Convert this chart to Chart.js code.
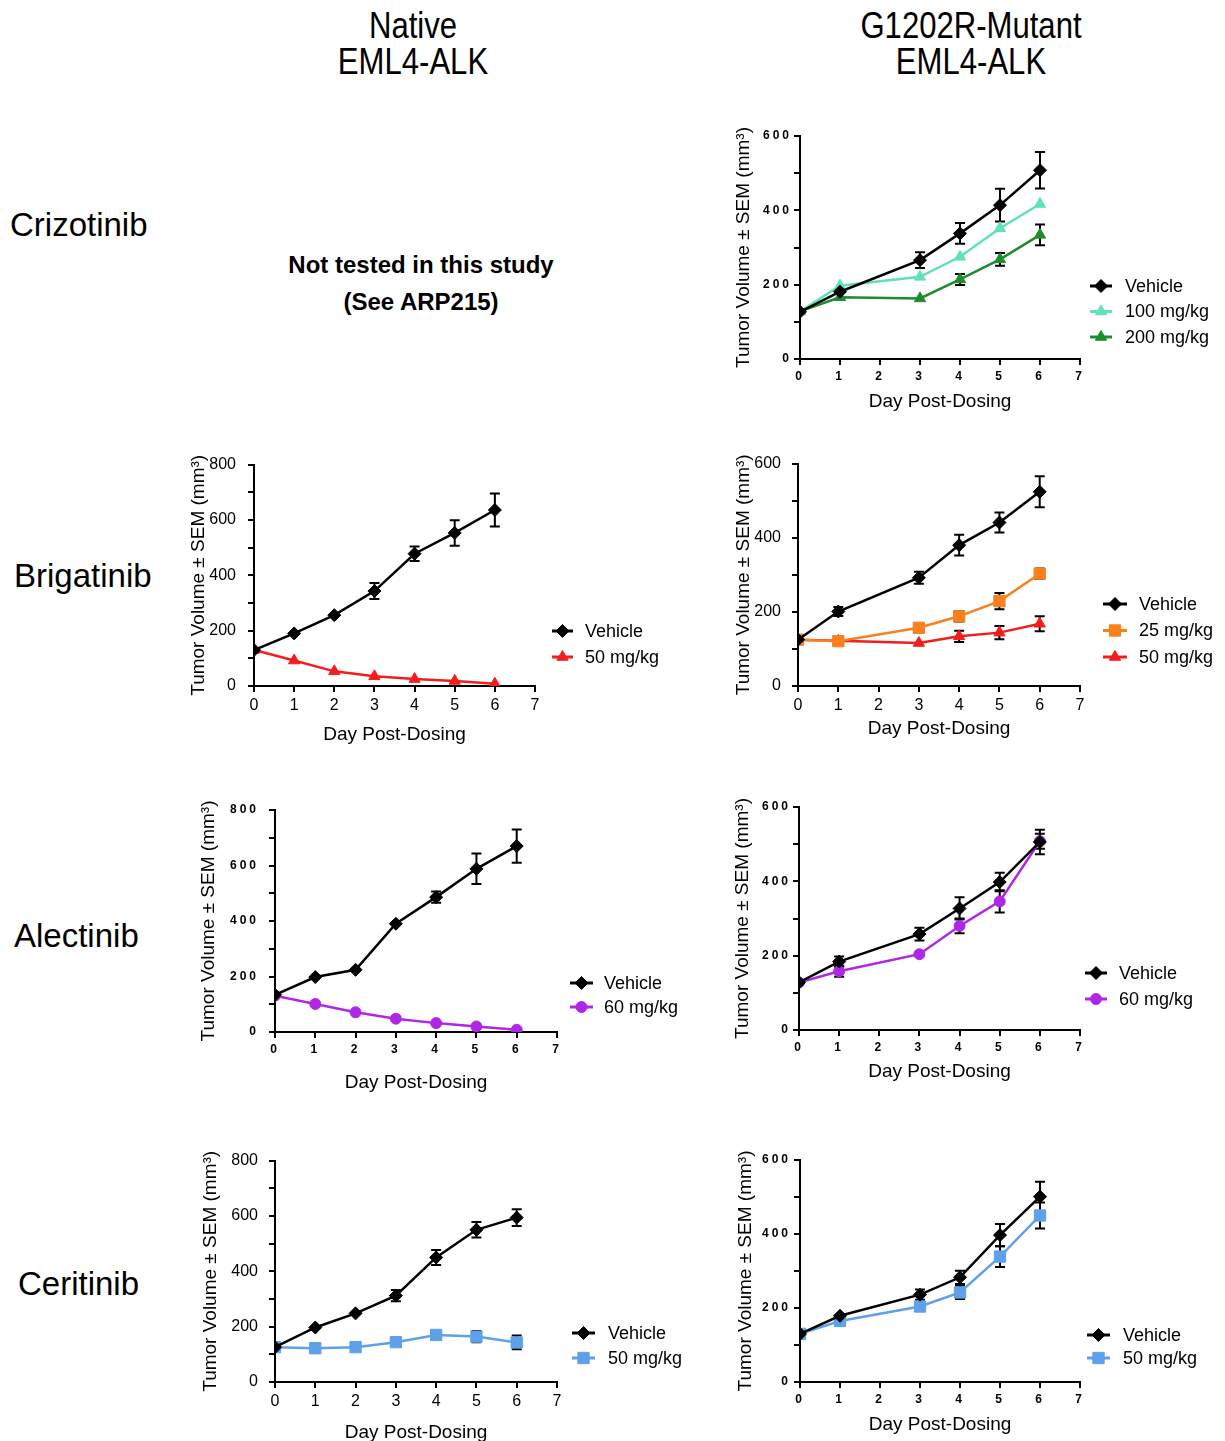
<!DOCTYPE html>
<html>
<head>
<meta charset="utf-8">
<title>Tumor volume, native vs G1202R-mutant EML4-ALK</title>
<script src="https://cdn.jsdelivr.net/npm/chart.js@4.4.1/dist/chart.umd.min.js"></script>
<style>
  html, body { margin: 0; padding: 0; background: #fff; }
  body { position: relative; width: 1225px; height: 1441px; overflow: hidden;
         font-family: 'Liberation Sans', Arial, sans-serif; color: #000; }
  .head { position: absolute; width: 300px; text-align: center; white-space: nowrap;
          font-size: 37px; line-height: 36px; transform: scaleX(0.84); transform-origin: 50% 50%; }
  .drug { position: absolute; font-size: 33px; line-height: 33px; white-space: nowrap; }
  .note { position: absolute; width: 320px; text-align: center; font-weight: bold;
          font-size: 24px; line-height: 24px; white-space: nowrap; }
</style>
</head>
<body>
<div class="head" style="left:263px;top:8px">Native<br>EML4-ALK</div>
<div class="head" style="left:821px;top:8px">G1202R-Mutant<br>EML4-ALK</div>

<div class="drug" style="left:10px;top:208px">Crizotinib</div>
<div class="drug" style="left:14px;top:559px">Brigatinib</div>
<div class="drug" style="left:14px;top:919px">Alectinib</div>
<div class="drug" style="left:18px;top:1267px">Ceritinib</div>

<div class="note" style="left:261px;top:253px">Not tested in this study</div>
<div class="note" style="left:261px;top:290px">(See ARP215)</div>

<script>
Chart.defaults.color = '#000';
Chart.defaults.font.family = "'Liberation Sans', Arial, sans-serif";

// measurement days and axis labels
const daysNative = [0, 1, 2, 3, 4, 5, 6];
const daysMutant = [0, 1, 3, 4, 5, 6];
const volLabels600 = [0, 200, 400, 600];
const volLabels800 = [0, 200, 400, 600, 800];

// Crizotinib, G1202R-mutant
const crizMutVehicle = [127, 181, 266, 338, 414, 508];
const crizMutVehicleSem = [0, 0, 21, 28, 44, 49];
const crizMut100 = [128, 197, 221, 275, 352, 417];
const crizMut100Sem = [0, 0, 0, 0, 0, 0];
const crizMut200 = [128, 166, 163, 214, 268, 334];
const crizMut200Sem = [0, 0, 0, 15, 17, 28];

// Brigatinib, native
const brigNatVehicle = [130, 190, 256, 343, 478, 553, 636];
const brigNatVehicleSem = [0, 0, 0, 29, 26, 46, 60];
const brigNat50 = [130, 92, 53, 35, 25, 18, 8];
const brigNat50Sem = [0, 0, 0, 0, 0, 0, 0];

// Brigatinib, G1202R-mutant
const brigMutVehicle = [125, 201, 292, 380, 441, 524];
const brigMutVehicleSem = [0, 12, 16, 28, 27, 42];
const brigMut25 = [125, 121, 157, 188, 229, 303];
const brigMut25Sem = [0, 0, 0, 14, 22, 14];
const brigMut50 = [125, 122, 116, 134, 144, 168];
const brigMut50Sem = [0, 0, 0, 15, 18, 20];

// Alectinib, native
const alecNatVehicle = [134, 198, 224, 390, 486, 588, 670];
const alecNatVehicleSem = [0, 0, 0, 0, 20, 55, 60];
const alecNat60 = [131, 101, 71, 48, 32, 20, 8];
const alecNat60Sem = [0, 0, 0, 0, 0, 0, 0];

// Alectinib, G1202R-mutant
const alecMutVehicle = [128, 184, 258, 327, 398, 506];
const alecMutVehicleSem = [0, 14, 17, 30, 25, 33];
const alecMut60 = [128, 158, 204, 280, 346, 508];
const alecMut60Sem = [0, 15, 0, 20, 30, 20];

// Ceritinib, native
const ceriNatVehicle = [126, 197, 248, 312, 450, 550, 594];
const ceriNatVehicleSem = [0, 0, 0, 20, 27, 28, 30];
const ceriNat50 = [126, 122, 126, 144, 170, 164, 143];
const ceriNat50Sem = [0, 0, 0, 0, 0, 20, 25];

// Ceritinib, G1202R-mutant
const ceriMutVehicle = [130, 179, 236, 283, 397, 501];
const ceriMutVehicleSem = [0, 0, 14, 18, 30, 40];
const ceriMut50 = [130, 165, 204, 242, 339, 450];
const ceriMut50Sem = [0, 0, 12, 18, 28, 35];

const BLACK = '#000000', AQUA = '#5fe3b4', GREEN = '#1e8c2e', RED = '#f41c1c',
      ORANGE = '#f8801e', PURPLE = '#b026e6', BLUE = '#5ea0ea';
const RADIUS = { rectRot: 6.5, triangle: 6.5, rect: 8, circle: 5.5 };

// page position of each plot area: [x=0, x=7, y=max, y=0]
const panels = [
  { box: [800, 1080, 136, 359], yMax: 600, labels: volLabels600, yw: 68, xh: 54, bold: true, tickPad: 2,
    legend: { x0: 1090, x1: 1112, tx: 1125, y: 286, gap: 25.5 }, days: daysMutant,
    series: [['Vehicle', crizMutVehicle, crizMutVehicleSem, BLACK, 'rectRot'],
             ['100 mg/kg', crizMut100, crizMut100Sem, AQUA, 'triangle'],
             ['200 mg/kg', crizMut200, crizMut200Sem, GREEN, 'triangle']] },
  { box: [254, 535, 463, 686], yMax: 800, labels: volLabels800, yw: 67, xh: 60, bold: false, tickPad: 12,
    legend: { x0: 552, x1: 573, tx: 585, y: 631, gap: 26 }, days: daysNative,
    series: [['Vehicle', brigNatVehicle, brigNatVehicleSem, BLACK, 'rectRot'],
             ['50 mg/kg', brigNat50, brigNat50Sem, RED, 'triangle']] },
  { box: [798, 1080, 463, 686], yMax: 600, labels: volLabels600, yw: 66, xh: 54, bold: false, tickPad: 11,
    legend: { x0: 1103, x1: 1127, tx: 1139, y: 604, gap: 26.5 }, days: daysMutant,
    series: [['Vehicle', brigMutVehicle, brigMutVehicleSem, BLACK, 'rectRot'],
             ['25 mg/kg', brigMut25, brigMut25Sem, ORANGE, 'rect'],
             ['50 mg/kg', brigMut50, brigMut50Sem, RED, 'triangle']] },
  { box: [275, 557, 810, 1032], yMax: 800, labels: volLabels800, yw: 78, xh: 62, bold: true, tickPad: 10,
    legend: { x0: 570, x1: 593, tx: 604, y: 983, gap: 24 }, days: daysNative,
    series: [['Vehicle', alecNatVehicle, alecNatVehicleSem, BLACK, 'rectRot'],
             ['60 mg/kg', alecNat60, alecNat60Sem, PURPLE, 'circle']] },
  { box: [799, 1080, 807, 1030], yMax: 600, labels: volLabels600, yw: 68, xh: 53, bold: true, tickPad: 2,
    legend: { x0: 1085, x1: 1107, tx: 1119, y: 973, gap: 26 }, days: daysMutant,
    series: [['Vehicle', alecMutVehicle, alecMutVehicleSem, BLACK, 'rectRot'],
             ['60 mg/kg', alecMut60, alecMut60Sem, PURPLE, 'circle']] },
  { box: [275, 557, 1160, 1382], yMax: 800, labels: volLabels800, yw: 76, xh: 62, bold: false, tickPad: 11,
    legend: { x0: 572, x1: 595, tx: 608, y: 1333, gap: 25 }, days: daysNative,
    series: [['Vehicle', ceriNatVehicle, ceriNatVehicleSem, BLACK, 'rectRot'],
             ['50 mg/kg', ceriNat50, ceriNat50Sem, BLUE, 'rect']] },
  { box: [800, 1080, 1160, 1382], yMax: 600, labels: volLabels600, yw: 66, xh: 54, bold: true, tickPad: 3,
    legend: { x0: 1087, x1: 1110, tx: 1123, y: 1335, gap: 23 }, days: daysMutant,
    series: [['Vehicle', ceriMutVehicle, ceriMutVehicleSem, BLACK, 'rectRot'],
             ['50 mg/kg', ceriMut50, ceriMut50Sem, BLUE, 'rect']] }
];

// SEM whiskers, drawn under the markers
const errorBars = {
  id: 'errorBars',
  beforeDatasetsDraw(chart) {
    const { ctx, scales: { x, y } } = chart;
    ctx.save();
    ctx.strokeStyle = '#000';
    ctx.lineWidth = 2;
    chart.data.datasets.forEach(ds => {
      ds.data.forEach((pt, i) => {
        const e = ds.sem[i];
        if (!e) return;
        const px = x.getPixelForValue(pt.x);
        const hi = y.getPixelForValue(pt.y + e);
        const lo = y.getPixelForValue(pt.y - e);
        ctx.beginPath();
        ctx.moveTo(px, hi); ctx.lineTo(px, lo);
        ctx.moveTo(px - 5, hi); ctx.lineTo(px + 5, hi);
        ctx.moveTo(px - 5, lo); ctx.lineTo(px + 5, lo);
        ctx.stroke();
      });
    });
    ctx.restore();
  }
};

// tick labels are drawn after the datasets (ticks.z = 1), so spacing set here only hits them
const spacedTicks = {
  id: 'spacedTicks',
  afterDatasetsDraw(chart, args, opts) { chart.ctx.letterSpacing = (opts.px || 0) + 'px'; },
  afterDraw(chart) { chart.ctx.letterSpacing = '0px'; }
};

// legend to the right of the plot, line + marker + label
const sideLegend = {
  id: 'sideLegend',
  afterDraw(chart, args, o) {
    const ctx = chart.ctx;
    ctx.save();
    ctx.letterSpacing = '0px';
    ctx.font = "18px 'Liberation Sans', Arial, sans-serif";
    ctx.textBaseline = 'middle';
    chart.data.datasets.forEach((ds, i) => {
      const y = o.y + i * o.gap;
      ctx.strokeStyle = ds.borderColor;
      ctx.fillStyle = ds.backgroundColor;
      ctx.lineWidth = 3;
      ctx.beginPath();
      ctx.moveTo(o.x0, y);
      ctx.lineTo(o.x1, y);
      ctx.stroke();
      ctx.lineWidth = 1;
      Chart.helpers.drawPoint(ctx, { pointStyle: ds.pointStyle, radius: ds.pointRadius, borderWidth: 1, rotation: 0 },
        (o.x0 + o.x1) / 2, y);
      ctx.fillStyle = '#000';
      ctx.fillText(ds.label, o.tx, y + 1);
    });
    ctx.restore();
  }
};

panels.forEach(p => {
  const [L, R, T, B] = p.box;
  const padTop = 20;
  const padRight = L > 600 ? 1225 - R : 160;
  const left = L - p.yw, top = T - padTop;
  const w = p.yw + (R - L) + padRight;
  const h = padTop + (B - T) + p.xh;

  const canvas = document.createElement('canvas');
  canvas.width = w;
  canvas.height = h;
  canvas.style.cssText = `position:absolute;left:${left}px;top:${top}px;width:${w}px;height:${h}px`;
  document.body.appendChild(canvas);

  const tickFont = p.bold
    ? { family: "'Liberation Sans', Arial, sans-serif", size: 12, weight: 'bold' }
    : { family: "'Liberation Sans', Arial, sans-serif", size: 16 };

  new Chart(canvas, {
    type: 'line',
    data: {
      datasets: p.series.map(([label, vals, sem, color, shape]) => ({
        label,
        data: p.days.map((d, i) => ({ x: d, y: vals[i] })),
        sem,
        borderColor: color,
        backgroundColor: color,
        borderWidth: 2.5,
        pointStyle: shape,
        pointRadius: RADIUS[shape],
        pointBorderWidth: 1,
        pointBorderColor: color,
        pointBackgroundColor: color,
        tension: 0,
        fill: false
      }))
    },
    options: {
      responsive: false,
      animation: false,
      events: [],
      layout: { padding: { top: padTop, right: padRight, left: 0, bottom: 0 } },
      plugins: {
        legend: { display: false },
        tooltip: { enabled: false },
        spacedTicks: { px: p.bold ? 3 : 0 },
        sideLegend: {
          x0: p.legend.x0 - left, x1: p.legend.x1 - left, tx: p.legend.tx - left,
          y: p.legend.y - top, gap: p.legend.gap
        }
      },
      scales: {
        x: {
          type: 'linear', min: 0, max: 7,
          ticks: { stepSize: 1, font: tickFont, padding: 4, z: 1, color: '#000' },
          grid: { drawOnChartArea: false, tickLength: 6, color: '#000', lineWidth: 2 },
          border: { color: '#000', width: 2 },
          title: { display: true, text: 'Day Post-Dosing', font: { size: 19 }, padding: 0, color: '#000' },
          afterFit: s => { s.height = p.xh; }
        },
        y: {
          type: 'linear', min: 0, max: p.yMax,
          ticks: {
            stepSize: 100, font: tickFont, padding: p.tickPad, z: 1, color: '#000',
            callback: v => p.labels.includes(v) ? String(v) : ''
          },
          grid: { drawOnChartArea: false, tickLength: 6, color: '#000', lineWidth: 2 },
          border: { color: '#000', width: 2 },
          title: { display: true, text: 'Tumor Volume \u00b1 SEM (mm\u00b3)', font: { size: 19 }, padding: 0, color: '#000' },
          afterFit: s => { s.width = p.yw; }
        }
      }
    },
    plugins: [errorBars, spacedTicks, sideLegend]
  });
});
</script>
</body>
</html>
